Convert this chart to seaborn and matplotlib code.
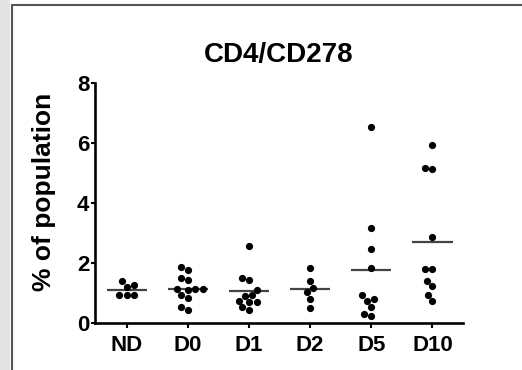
import numpy as np
import pandas as pd
import matplotlib
matplotlib.use("Agg")
import matplotlib.pyplot as plt
from matplotlib.patches import Rectangle
import seaborn as sns

groups = ["ND", "D0", "D1", "D2", "D5", "D10"]
nd = [1.21, 1.40, 1.27, 0.93, 0.93, 0.93]
d0 = [1.77, 1.88, 1.43, 1.49, 1.13, 1.13, 1.13, 1.10, 0.93, 0.82, 0.43, 0.53]
d1 = [2.58, 1.43, 1.49, 1.10, 0.93, 0.90, 0.71, 0.71, 0.54, 0.43, 0.75]
d2 = [1.84, 1.40, 1.18, 1.02, 0.80, 0.51]
d5 = [6.54, 3.18, 2.46, 1.84, 0.93, 0.73, 0.80, 0.54, 0.24, 0.29]
d10 = [5.93, 5.16, 5.12, 2.88, 1.80, 1.80, 1.40, 1.23, 0.93, 0.74]

title = "CD4/CD278"
ylabel = "% of population"

rows = []
for g, vals in zip(groups, [nd, d0, d1, d2, d5, d10]):
    for v in vals:
        rows.append((g, v))
df = pd.DataFrame(rows, columns=["group", "value"])

sns.set_style("ticks")
plt.rcParams["font.family"] = ["Liberation Sans", "DejaVu Sans"]
plt.rcParams["font.weight"] = "bold"
plt.rcParams["text.color"] = "black"
plt.rcParams["xtick.color"] = "black"
plt.rcParams["ytick.color"] = "black"
plt.rcParams["axes.labelcolor"] = "black"

fig = plt.figure(figsize=(5.22, 3.70), dpi=100)
ax = fig.add_axes([95 / 522, 1 - 323 / 370, 368 / 522, 240 / 370])

sns.swarmplot(data=df, x="group", y="value", order=groups, color="black",
              size=5.2, ax=ax, clip_on=False)

# mean lines
means = df.groupby("group")["value"].mean().reindex(groups)
ax.hlines(means.values, np.arange(len(groups)) - 0.33,
          np.arange(len(groups)) + 0.33, color="#444444", lw=1.6, zorder=1)

ax.set_xlim(-0.52, 5.5)
ax.set_ylim(0, 8)
ax.set_yticks([0, 2, 4, 6, 8])
ax.set_xlabel("")
ax.set_ylabel(ylabel, fontsize=19, fontweight="bold")
ax.yaxis.set_label_coords(-0.105, 0.546)
ax.set_title(title, fontsize=20, fontweight="bold", pad=15)

for side in ["top", "right"]:
    ax.spines[side].set_visible(False)
for side in ["left", "bottom"]:
    ax.spines[side].set_linewidth(1.9)
    ax.spines[side].set_color("black")
ax.tick_params(axis="x", length=3.5, width=1.5, pad=5, labelsize=16)
ax.tick_params(axis="y", length=3, width=1.5, pad=1, labelsize=16)
for lab in ax.get_xticklabels() + ax.get_yticklabels():
    lab.set_fontweight("bold")

# page frame like the source figure
fig.patches.append(Rectangle((0, 0), 10 / 522, 1, transform=fig.transFigure,
                             facecolor="#e4e4e4", edgecolor="none"))
fig.add_artist(plt.Line2D([12 / 522, 12 / 522], [0, 1 - 5 / 370],
                          transform=fig.transFigure, color="#555555", lw=1.5))
fig.add_artist(plt.Line2D([12 / 522, 1], [1 - 5 / 370, 1 - 5 / 370],
                          transform=fig.transFigure, color="#555555", lw=1.5))

fig.savefig("out.png", dpi=100)
